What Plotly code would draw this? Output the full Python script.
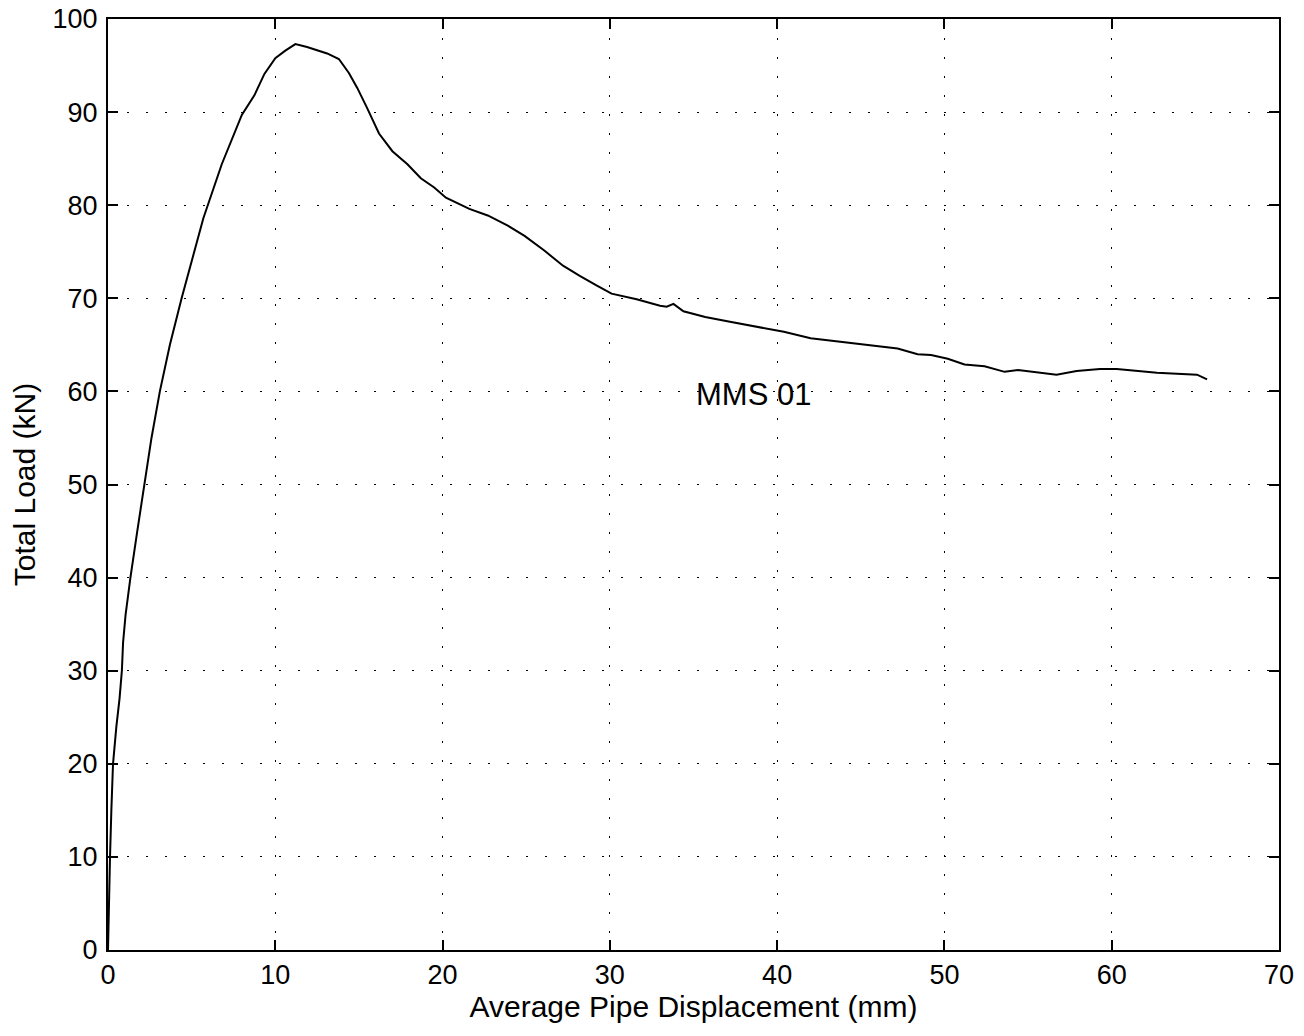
import plotly.graph_objects as go

# Average pipe displacement (mm) and total load (kN)
disp = [0, 0.05, 0.12, 0.2, 0.3, 0.5, 0.69, 0.83, 0.9, 1.05, 1.34, 1.75, 2.17, 2.6, 3.1, 3.7,
        4.4, 5.0, 5.7, 6.8, 8.0, 8.75, 9.35, 10.0, 10.6, 11.2, 11.9, 13.1, 13.8, 14.4, 14.9,
        15.5, 16.2, 17.0, 17.9, 18.7, 19.5, 20.2, 21.6, 22.7, 23.9, 24.9, 26.1, 27.2, 28.2,
        29.2, 30.1, 31.6, 33.0, 33.4, 33.8, 34.4, 35.7, 37.1, 38.3, 39.7, 40.4, 42.0, 44.0,
        45.6, 47.2, 48.4, 49.2, 50.2, 51.2, 52.4, 53.6, 54.4, 55.6, 56.7, 57.9, 59.3, 60.3,
        61.5, 62.7, 63.9, 65.1, 65.7]
load = [0, 5, 10, 15, 20, 24, 27, 30, 33, 36, 40, 45, 50, 55, 60, 65,
        70, 74, 78.6, 84.4, 89.7, 91.8, 94.1, 95.8, 96.6, 97.3, 97.0, 96.3, 95.7, 94.2, 92.6,
        90.4, 87.7, 85.8, 84.4, 82.9, 81.9, 80.8, 79.6, 78.9, 77.8, 76.7, 75.1, 73.5, 72.4,
        71.4, 70.5, 69.9, 69.2, 69.1, 69.4, 68.6, 68.0, 67.5, 67.1, 66.6, 66.4, 65.7, 65.3,
        65.0, 64.6, 64.0, 63.9, 63.5, 62.9, 62.7, 62.1, 62.3, 62.0, 61.8, 62.2, 62.4, 62.4,
        62.2, 62.0, 61.9, 61.8, 61.3]

x_ticks = [0, 10, 20, 30, 40, 50, 60, 70]
y_ticks = [0, 10, 20, 30, 40, 50, 60, 70, 80, 90, 100]
label_text = "MMS 01"
label_x, label_y = 38.6, 59.7

FONT = "Liberation Sans, Arial, Helvetica, sans-serif"

fig = go.Figure()
fig.add_trace(go.Scatter(x=disp, y=load, mode="lines",
                         line=dict(color="black", width=2), showlegend=False))

fig.add_annotation(x=label_x, y=label_y, text=label_text, showarrow=False,
                   font=dict(family=FONT, size=31, color="black"))

axis_common = dict(
    showline=True, linecolor="black", linewidth=2, mirror="allticks",
    ticks="inside", ticklen=10, tickwidth=1.5, tickcolor="black",
    showgrid=True, gridcolor="black", gridwidth=1, griddash="2px,17px",
    zeroline=False, automargin=False, ticklabeloverflow="allow",
    tickfont=dict(family=FONT, size=27, color="black"),
    title_font=dict(family=FONT, size=30, color="black"),
)

fig.update_xaxes(range=[0, 70], tickvals=x_ticks, ticktext=[str(v) for v in x_ticks],
                 title_text="Average Pipe Displacement (mm)", title_standoff=7,
                 **axis_common)
fig.update_yaxes(range=[0, 100], tickvals=y_ticks, ticktext=[str(v) for v in y_ticks],
                 title_text="Total Load (kN)", title_standoff=8, ticklabelstandoff=3,
                 **axis_common)

fig.update_layout(
    width=1304, height=1036,
    margin=dict(l=108, r=25, t=19, b=86),
    paper_bgcolor="white", plot_bgcolor="white",
    font=dict(family=FONT, color="black"),
)

fig.write_html("out.html",
               config={"displayModeBar": False},
               post_script="document.body.style.margin='0';document.body.style.overflow='hidden';")
